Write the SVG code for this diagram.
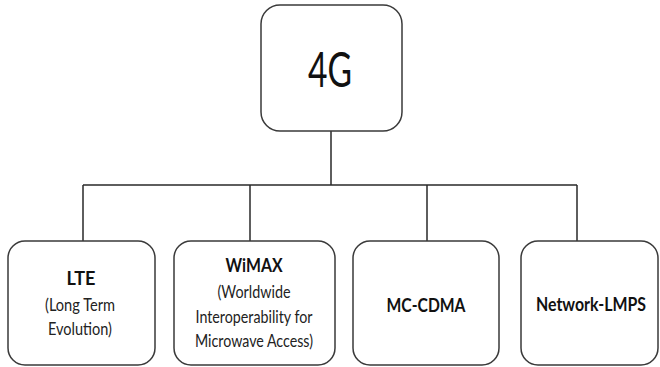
<svg xmlns="http://www.w3.org/2000/svg" width="660" height="367" viewBox="0 0 660 367">
<style>
.box{fill:#fff;stroke:#3a3a3a;stroke-width:1.5}
.conn{fill:none;stroke:#2a2a2a;stroke-width:1.5}
text{font-family:Lato,"Open Sans","Liberation Sans",sans-serif;fill:#111;text-anchor:middle}
.t{font-weight:bold;font-size:18px}
.s{font-size:17px;fill:#222}
.big{font-size:49px}
</style>
<rect width="660" height="367" fill="#fff"/>
<g id="connectors">
<path class="conn" d="M331 131V185M83 185H577M83 185V241M250 185V241M427 185V241M577 185V241"/>
</g>
<g id="node-4g">
<rect class="box" x="261" y="5" width="141" height="126" rx="19"/>
<text class="big" x="330" y="87" textLength="44" lengthAdjust="spacingAndGlyphs">4G</text>
</g>
<g id="node-lte">
<rect class="box" x="8" y="241" width="147" height="124" rx="17"/>
<text class="t" x="81" y="285" textLength="29" lengthAdjust="spacingAndGlyphs">LTE</text>
<text class="s" x="80" y="311" textLength="70" lengthAdjust="spacingAndGlyphs">(Long Term</text>
<text class="s" x="80" y="335" textLength="64" lengthAdjust="spacingAndGlyphs">Evolution)</text>
</g>
<g id="node-wimax">
<rect class="box" x="174" y="241" width="161" height="124" rx="17"/>
<text class="t" x="254" y="272" textLength="57" lengthAdjust="spacingAndGlyphs">WiMAX</text>
<text class="s" x="254" y="298" textLength="73" lengthAdjust="spacingAndGlyphs">(Worldwide</text>
<text class="s" x="254" y="323" textLength="117" lengthAdjust="spacingAndGlyphs">Interoperability for</text>
<text class="s" x="254" y="347" textLength="118" lengthAdjust="spacingAndGlyphs">Microwave Access)</text>
</g>
<g id="node-mccdma">
<rect class="box" x="353" y="241" width="146" height="124" rx="17"/>
<text class="t" x="426" y="312" textLength="79" lengthAdjust="spacingAndGlyphs">MC-CDMA</text>
</g>
<g id="node-lmps">
<rect class="box" x="521" y="241" width="137" height="124" rx="17"/>
<text class="t" x="591" y="311" textLength="110" lengthAdjust="spacingAndGlyphs">Network-LMPS</text>
</g>
</svg>
